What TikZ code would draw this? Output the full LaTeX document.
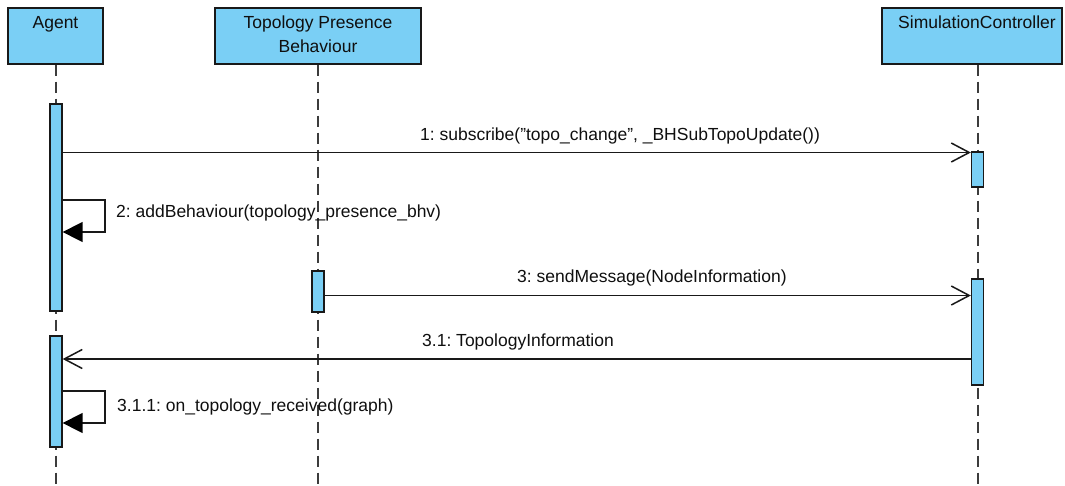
\documentclass[tikz,border=0pt]{standalone}
\usepackage{fontspec}
\setmainfont{Liberation Sans}
\usetikzlibrary{arrows.meta,backgrounds}
\frenchspacing
\definecolor{lifefill}{RGB}{122,207,245}
\definecolor{edge}{RGB}{25,25,25}
\definecolor{dashgray}{RGB}{60,60,60}
\definecolor{ink}{RGB}{15,15,15}
\tikzset{
  txt/.style={font=\fontsize{17.5}{21}\selectfont, text=ink, inner sep=0pt},
  headbox/.style={draw=edge, fill=lifefill, line width=1.4pt, minimum width=#1,
    minimum height=56pt, inner sep=0pt},
  actbox/.style={draw=edge, fill=lifefill, line width=1.3pt, minimum width=12pt,
    minimum height=#1, inner sep=0pt},
  lifeline/.style={draw=dashgray, line width=2pt, dash pattern=on 11pt off 6pt},
  msg/.style={draw=edge, line width=1.5pt},
  openhead/.style={msg, -{Straight Barb[length=18pt, width=19pt, line width=1.5pt]}},
  filledhead/.style={msg, -{Triangle[length=20pt, width=20pt, fill=black, color=black]}},
}
\begin{document}
\begin{tikzpicture}[x=1pt, y=-1pt]
\useasboundingbox (0,0) rectangle (1065,485);
\coordinate (bottom) at (0,486);

% lifeline heads
\node[headbox=95pt] (agent) at (55.5,36) {};
\node[headbox=206pt] (topo) at (318,36) {};
\node[headbox=180pt] (sim) at (972,36) {};
\node[txt, anchor=base] (agentlbl) at (55.5,28) {Agent};
\node[txt, anchor=base] (topolbl1) at (318,28) {Topology Presence};
\node[txt, anchor=base] (topolbl2) at (318,52) {Behaviour};
\node[txt, anchor=base] (simlbl) at (977,28) {SimulationController};

% activation bars
\node[actbox=207pt] (a1) at (56,207.5) {};
\node[actbox=35pt] (sc1) at (977.5,169.5) {};
\node[actbox=41pt] (tp1) at (318,291.5) {};
\node[actbox=106pt] (sc2) at (977.5,332) {};
\node[actbox=111pt] (a2) at (56,391.5) {};

% dashed lifelines, behind the bars
\begin{scope}[on background layer]
\draw[lifeline] (a1.north |- agent.south) -- (a1.north |- bottom);
\draw[lifeline] (tp1.north |- topo.south) -- (tp1.north |- bottom);
\draw[lifeline] (sc1.north |- sim.south) -- (sc1.north |- bottom);
\end{scope}

% message rows
\coordinate (m1) at (0,152.5);
\coordinate (m3) at (0,295.5);
\coordinate (r31) at (0,359);
\coordinate (s2a) at (105,200);
\coordinate (s2b) at (105,232);
\coordinate (s311a) at (105,391);
\coordinate (s311b) at (105,423);

% 1: subscribe
\draw[openhead] (a1.east |- m1) -- (sc1.west |- m1);
\node[txt, anchor=base] (lbl1) at (620,140) {1: subscribe(\symbol{34}topo\_change\symbol{34}, \_BHSubTopoUpdate())};

% 2: self call
\draw[filledhead] (a1.east |- s2a) -- (s2a) -- (s2b) -- (a1.east |- s2b);
\node[txt, anchor=base west] (lbl2) at (116,217) {2: addBehaviour(topology\_presence\_bhv)};

% 3: sendMessage
\draw[openhead] (tp1.east |- m3) -- (sc2.west |- m3);
\node[txt, anchor=base west] (lbl3) at (517,282) {3: sendMessage(NodeInformation)};

% 3.1: reply
\draw[openhead] (sc2.west |- r31) -- (a2.east |- r31);
\node[txt, anchor=base west] (lbl31) at (422,346) {3.1: TopologyInformation};

% 3.1.1: self call
\draw[filledhead] (a2.east |- s311a) -- (s311a) -- (s311b) -- (a2.east |- s311b);
\node[txt, anchor=base west] (lbl311) at (117,411) {3.1.1: on\_topology\_received(graph)};
\end{tikzpicture}
\end{document}
